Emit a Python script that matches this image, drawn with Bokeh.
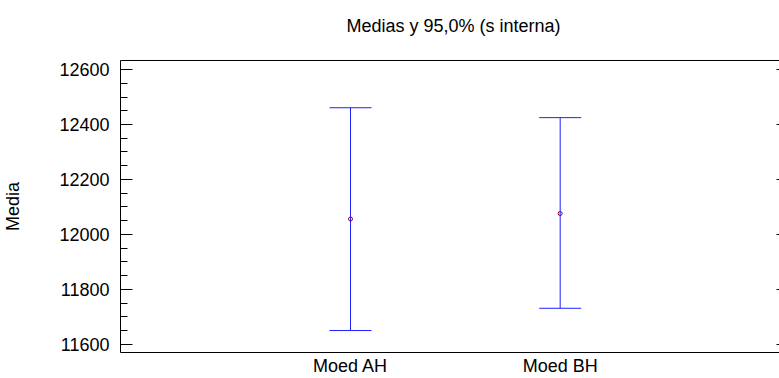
from bokeh.plotting import figure
from bokeh.models import (ColumnDataSource, Whisker, TeeHead, Range1d, LinearAxis,
                          SingleIntervalTicker, FixedTicker, CustomJSTickFormatter)
from bokeh.embed import file_html
from bokeh.resources import INLINE

# ---- data ----
categories = ["Moed AH", "Moed BH"]
positions = [1, 2]
means = [12056, 12076]
lower = [11650, 11731]
upper = [12461, 12425]
y_ticks_interval = 200

FONT = "Liberation Sans"
FS = "18px"

src = ColumnDataSource(dict(x=positions, mean=means, lower=lower, upper=upper))

p = figure(width=779, height=378, output_backend="svg", toolbar_location=None,
           x_range=Range1d(-0.097, 3.046), y_range=Range1d(11570, 12633),
           min_border_left=119, min_border_right=0, min_border_top=60,
           min_border_bottom=23)

p.background_fill_color = "white"
p.border_fill_color = "white"
p.outline_line_color = None
p.xgrid.visible = False
p.ygrid.visible = False

# title
p.title.text = "Medias y 95,0% (s interna)"
p.title.align = "left"
p.title.offset = 226
p.title.vertical_align = "top"
p.title.standoff = 22
p.title.text_font = FONT
p.title.text_font_size = FS
p.title.text_font_style = "normal"
p.title.text_color = "black"

# x axis
xa = p.xaxis[0]
xa.ticker = FixedTicker(ticks=positions)
xa.major_label_overrides = {pos: c for pos, c in zip(positions, categories)}
xa.major_tick_in = 0
xa.major_tick_out = 0
xa.minor_tick_in = 0
xa.minor_tick_out = 0
xa.axis_line_color = "black"
xa.major_label_text_font = FONT
xa.major_label_text_font_size = FS
xa.major_label_text_color = "black"
xa.major_label_standoff = 3

# y axis
ya = p.yaxis[0]
ya.ticker = SingleIntervalTicker(interval=y_ticks_interval, num_minor_ticks=4)
ya.major_tick_in = 12
ya.major_tick_out = 0
ya.minor_tick_in = 7
ya.minor_tick_out = 0
ya.major_tick_line_color = "black"
ya.minor_tick_line_color = "black"
ya.axis_line_color = "black"
ya.major_label_text_font = FONT
ya.major_label_text_font_size = FS
ya.major_label_text_color = "black"
ya.major_label_standoff = 11
ya.axis_label = "Media"
ya.axis_label_text_font = FONT
ya.axis_label_text_font_size = FS
ya.axis_label_text_font_style = "normal"
ya.axis_label_text_color = "black"
ya.axis_label_standoff = 33

empty = CustomJSTickFormatter(code="return ''")

# top border line; an invisible outward tick reserves space below the title
ta = LinearAxis(ticker=FixedTicker(ticks=[1.5]), formatter=empty)
ta.major_tick_in = 0
ta.major_tick_out = 12
ta.major_tick_line_color = None
ta.minor_tick_in = 0
ta.minor_tick_out = 0
ta.axis_line_color = "black"
ta.major_label_standoff = 0
ta.major_label_text_font_size = "1px"
p.add_layout(ta, "above")

# right axis with small inward ticks
ra = LinearAxis(ticker=SingleIntervalTicker(interval=y_ticks_interval, num_minor_ticks=0),
                formatter=empty)
ra.major_tick_in = 3
ra.major_tick_out = 0
ra.minor_tick_in = 0
ra.minor_tick_out = 0
ra.major_tick_line_color = "black"
ra.axis_line_color = None
ra.major_label_standoff = 0
p.add_layout(ra, "right")

# error bars
w = Whisker(base="x", lower="lower", upper="upper", source=src,
            line_color="#2020ff", line_width=1,
            upper_head=TeeHead(size=42, line_color="#2020ff", line_width=1),
            lower_head=TeeHead(size=42, line_color="#2020ff", line_width=1))
p.add_layout(w)

p.scatter(x="x", y="mean", source=src, size=4, marker="circle",
          line_color="#8b0040", fill_color=None, line_width=1)

open("out.html", "w").write(file_html(p, INLINE))
